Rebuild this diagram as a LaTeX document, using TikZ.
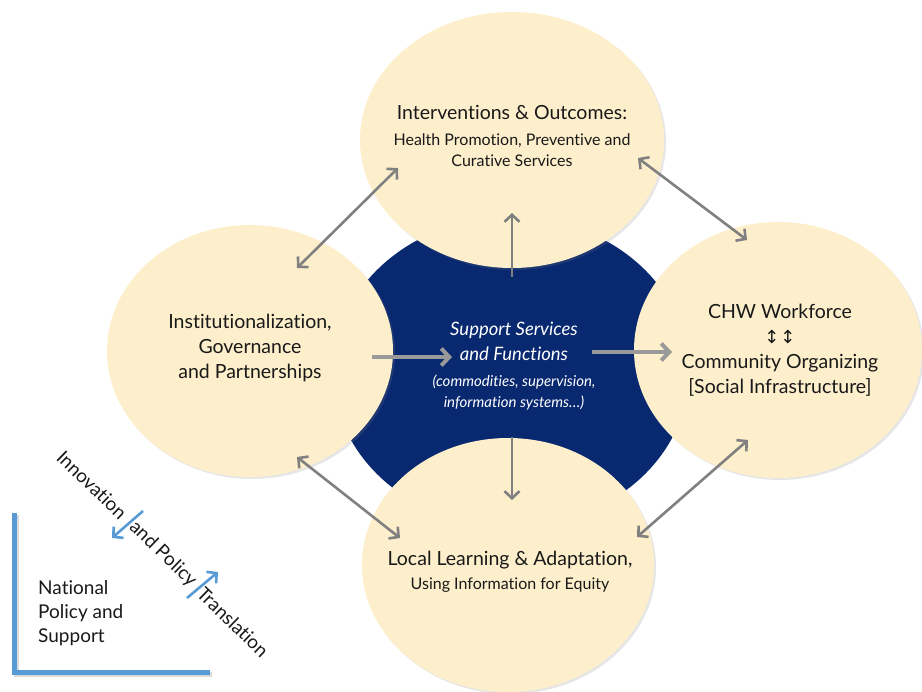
\documentclass[tikz,border=0pt]{standalone}
\usepackage{fontspec}
\setmainfont{Lato}[Ligatures=NoCommon]
\newfontfamily\symfont{DejaVu Sans}
\usetikzlibrary{arrows.meta,shapes.geometric,shadows}

\definecolor{beige}{RGB}{253,239,204}
\definecolor{navy}{RGB}{8,40,112}
\definecolor{linkgray}{RGB}{128,128,128}
\definecolor{policyblue}{RGB}{88,154,214}

\newcommand\sub{\fontsize{16}{21}\selectfont}
\newcommand\lead{\fontsize{19.5}{25}\selectfont}
\newcommand\supsub{\fontsize{15}{21}\selectfont\itshape}

\begin{document}
\begin{tikzpicture}[x=1pt,y=-1pt,>={Straight Barb[length=7pt,width=15pt]},
    bubble/.style={ellipse,fill=beige,inner sep=0pt,
        drop shadow={opacity=0.2,shadow xshift=2pt,shadow yshift=-2pt}},
    txt/.style={align=center,text=black!90,inner sep=0pt,font=\lead},
    diag/.style={txt,rotate=-44,font=\fontsize{19}{24}\selectfont},
    link/.style={draw=linkgray,line width=2.6pt},
    feed/.style={draw=linkgray!80,line width=4pt,-{Straight Barb[length=8pt,width=17pt]}},
    policy/.style={draw=policyblue,line width=2.6pt,->,
        preaction={draw=white,line width=5pt}}]
    \useasboundingbox (0,0) rectangle (922,692);

    % Centro
    \node[ellipse,fill=navy,minimum width=356pt,minimum height=310pt] (Sup) at (511,372) {};

    % Circulos
    \node[bubble,minimum width=304pt,minimum height=256pt] (Int) at (512,140) {};
    \node[bubble,minimum width=286pt,minimum height=252pt] (Inst) at (250,351) {};
    \node[bubble,minimum width=288pt,minimum height=256pt] (CHW) at (778,350) {};
    \node[bubble,minimum width=292pt,minimum height=254pt] (Loc) at (508,565) {};

    % Textos
    \node[txt] (IntT) at (512,136) {Interventions \& Outcomes:\\[1pt]
        \sub Health Promotion, Preventive and\\[-4pt] \sub Curative Services};
    \node[txt] (InstT) at (250,348) {Institutionalization,\\ Governance\\ and Partnerships};
    \node[txt] (CHWT) at (780,350) {CHW Workforce\\
        {\symfont\fontsize{18}{25}\selectfont ↕\hspace{1pt}↕}\\ Community Organizing\\
        {[Social Infrastructure]}};
    \node[txt] (LocT) at (510,572) {Local Learning \& Adaptation,\\[-1pt] \sub Using Information for Equity};
    \node[txt,text=white,font=\fontsize{18.5}{25}\selectfont\itshape] (SupT) at (514,366)
        {Support Services\\ and Functions\\[1pt]
        \supsub (commodities, supervision,\\[-4pt] \supsub information systems…)};

    % Flechas
    \coordinate (A1) at (398,168);
    \coordinate (A2) at (297,268);
    \coordinate (B1) at (638,158);
    \coordinate (B2) at (747,240);
    \coordinate (C1) at (297,457);
    \coordinate (C2) at (400,538);
    \coordinate (D1) at (637,537);
    \coordinate (D2) at (748,440);
    \coordinate (U1) at (512,277);
    \coordinate (U2) at (512,213);
    \coordinate (V1) at (512,437);
    \coordinate (V2) at (512,500);
    \coordinate (H1) at (372,357);
    \coordinate (H2) at (452,357);
    \coordinate (K1) at (592,352);
    \coordinate (K2) at (672,352);
    \begin{scope}[link]
        \draw[<->] (A1) -- (A2);
        \draw[<->] (B1) -- (B2);
        \draw[<->] (C1) -- (C2);
        \draw[<->] (D1) -- (D2);
        \draw[->] (U1) -- (U2);
        \draw[->] (V1) -- (V2);
    \end{scope}
    \draw[feed] (H1) -- (H2);
    \draw[feed] (K1) -- (K2);

    % Nivel nacional
    \draw[black!15,line width=5pt] (16,515) -- (16,674) -- (212,674);
    \draw[policyblue,line width=5pt] (14,513) -- (14,672) -- (210,672);
    \node[txt,align=left,anchor=west,font=\fontsize{19}{24}\selectfont] (Nat) at (38,613)
        {National\\ Policy and\\ Support};
    \node[diag] (Tr1) at (92,485) {Innovation};
    \node[diag] (Tr2) at (163,554) {and Policy};
    \node[diag] (Tr3) at (233,622) {Translation};
    \coordinate (P1) at (143,511);
    \coordinate (P2) at (112,538);
    \coordinate (P3) at (187,598);
    \coordinate (P4) at (218,572);
    \draw[policy] (P1) -- (P2);
    \draw[policy] (P3) -- (P4);
\end{tikzpicture}
\end{document}
